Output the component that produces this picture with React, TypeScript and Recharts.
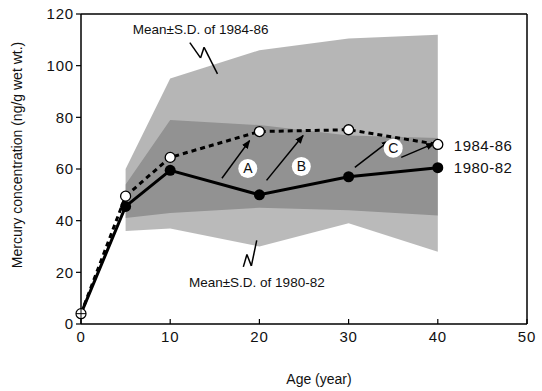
import {
  Area,
  ComposedChart,
  Line,
  ReferenceDot,
  ReferenceLine,
  XAxis,
  YAxis,
} from "recharts";

// ages sampled (years)
const ages = [0, 5, 10, 20, 30, 40];
// mean mercury concentration (ng/g wet wt.)
const mean8082 = [4, 45.5, 59.5, 50, 57, 60.5];
const mean8486 = [4, 49.5, 64.5, 74.5, 75.2, 69.5];
// mean ± S.D. envelopes
const sd8486High = [null, 60, 95, 106, 110.5, 112];
const sd8486Low = [null, 41, 43, 45, 44, 42];
const sd8082High = [null, 54, 79, 77, 73, 72];
const sd8082Low = [null, 36, 37, 30, 39, 28];

const xTicks = [0, 10, 20, 30, 40, 50];
const yTicks = [0, 20, 40, 60, 80, 100, 120];

// arrows from 1980-82 to 1984-86 and their letters
const arrows = [
  { from: { x: 15.8, y: 56.4 }, to: { x: 18.9, y: 71 } },
  { from: { x: 20.8, y: 55.6 }, to: { x: 24.9, y: 73 } },
  { from: { x: 30.7, y: 60.6 }, to: { x: 34.6, y: 71 } },
  { from: { x: 35.9, y: 64.5 }, to: { x: 39.6, y: 69.9 } },
];
const letters = [
  { x: 18.7, y: 60.2, text: "A" },
  { x: 24.7, y: 61, text: "B" },
  { x: 35, y: 68, text: "C" },
];
const zigUpper = [
  { x: 12.2, y: 108.9 },
  { x: 13.4, y: 103.0 },
  { x: 13.8, y: 107.1 },
  { x: 15.3, y: 96.8 },
];
const zigLower = [
  { x: 18.2, y: 22.1 },
  { x: 18.6, y: 26.9 },
  { x: 19.1, y: 22.5 },
  { x: 19.7, y: 32.4 },
];
const notes = [
  { x: 5.8, y: 112.4, text: "Mean±S.D. of 1984-86", size: 13.5 },
  { x: 12.1, y: 14.3, text: "Mean±S.D. of 1980-82", size: 13.5 },
  { x: 41.8, y: 66.9, text: "1984-86", size: 15 },
  { x: 41.8, y: 58.3, text: "1980-82", size: 15 },
];

const data = ages.map((age, i) => ({
  age,
  m8082: mean8082[i],
  m8486: mean8486[i],
  b8486: sd8486High[i] == null ? null : [sd8486Low[i], sd8486High[i]],
  b8082: sd8082High[i] == null ? null : [sd8082Low[i], sd8082High[i]],
}));

const font = "'Liberation Sans', Arial, sans-serif";

function segments(pts: { x: number; y: number }[]) {
  return pts.slice(1).map((p, i) => [pts[i], p]);
}

const FilledDot = (p: any) => {
  if (p.index === 0) return <g key={p.key} />;
  return <circle key={p.key} cx={p.cx} cy={p.cy} r={5.5} fill="#000" />;
};

const OpenDot = (p: any) => {
  if (p.index === 0) {
    return (
      <g key={p.key}>
        <circle cx={p.cx} cy={p.cy} r={5} fill="#fff" stroke="#000" strokeWidth={1.2} />
        <line x1={p.cx - 5} x2={p.cx + 5} y1={p.cy} y2={p.cy} stroke="#000" strokeWidth={1} />
        <line x1={p.cx} x2={p.cx} y1={p.cy - 5} y2={p.cy + 5} stroke="#000" strokeWidth={1} />
      </g>
    );
  }
  return (
    <circle key={p.key} cx={p.cx} cy={p.cy} r={5} fill="#fff" stroke="#000" strokeWidth={1.3} />
  );
};

const ArrowShape = (p: any) => (
  <line
    x1={p.x1}
    y1={p.y1}
    x2={p.x2}
    y2={p.y2}
    stroke="#000"
    strokeWidth={1.5}
    markerEnd="url(#arrowHead)"
  />
);

export default function App() {
  const axisStroke = { stroke: "#000", strokeWidth: 1.5 };
  const tickStyle = { fill: "#111", fontSize: 15, fontFamily: font, letterSpacing: 0.8 };

  return (
    <div
      style={{
        position: "fixed",
        left: 0,
        top: 0,
        width: 542,
        height: 391,
        background: "#fff",
        fontFamily: font,
      }}
    >
      <ComposedChart
        width={542}
        height={391}
        data={data}
        margin={{ top: 14, right: 15, bottom: 37, left: 0 }}
      >
        <defs>
          <marker
            id="arrowHead"
            markerWidth="9"
            markerHeight="8"
            refX="8"
            refY="4"
            orient="auto"
            markerUnits="userSpaceOnUse"
          >
            <path d="M0,0.5 L9,4 L0,7.5 z" fill="#000" />
          </marker>
        </defs>
        <XAxis
          type="number"
          dataKey="age"
          domain={[0, 50]}
          ticks={xTicks}
          height={30}
          axisLine={axisStroke}
          tickLine={{ stroke: "#000", strokeWidth: 1.2 }}
          tickSize={-5}
          tickMargin={12}
          tick={tickStyle}
          interval={0}
        />
        <YAxis
          type="number"
          domain={[0, 120]}
          ticks={yTicks}
          width={81}
          axisLine={axisStroke}
          tickLine={{ stroke: "#000", strokeWidth: 1.2 }}
          tickSize={5}
          tickMargin={2}
          tick={tickStyle}
          interval={0}
        />
        <Area
          type="linear"
          dataKey="b8486"
          stroke="none"
          fill="#666"
          fillOpacity={0.48}
          isAnimationActive={false}
        />
        <Area
          type="linear"
          dataKey="b8082"
          stroke="none"
          fill="#666"
          fillOpacity={0.45}
          isAnimationActive={false}
        />
        <ReferenceLine y={120} stroke="#000" strokeWidth={1.5} />
        <ReferenceLine x={50} stroke="#000" strokeWidth={1.5} />
        {arrows.map((a, i) => (
          <ReferenceLine key={`arrow${i}`} segment={[a.from, a.to]} shape={ArrowShape} />
        ))}
        {[...segments(zigUpper), ...segments(zigLower)].map((s, i) => (
          <ReferenceLine key={`zig${i}`} segment={s} stroke="#000" strokeWidth={1.5} />
        ))}
        <Line
          type="linear"
          dataKey="m8486"
          stroke="#000"
          strokeWidth={3}
          strokeDasharray="5 4"
          dot={OpenDot}
          activeDot={false}
          isAnimationActive={false}
        />
        <Line
          type="linear"
          dataKey="m8082"
          stroke="#000"
          strokeWidth={3}
          dot={FilledDot}
          activeDot={false}
          isAnimationActive={false}
        />
        {letters.map((l) => (
          <ReferenceDot
            key={l.text}
            x={l.x}
            y={l.y}
            r={9}
            shape={(p: any) => (
              <g>
                <circle cx={p.cx} cy={p.cy} r={9.5} fill="#fff" />
                <text
                  x={p.cx}
                  y={p.cy + 5}
                  textAnchor="middle"
                  fontSize={14}
                  fontFamily={font}
                  fill="#111"
                >
                  {l.text}
                </text>
              </g>
            )}
          />
        ))}
        {notes.map((n) => (
          <ReferenceDot
            key={n.text}
            x={n.x}
            y={n.y}
            r={1}
            shape={(p: any) => (
              <text
                x={p.cx}
                y={p.cy}
                fontSize={n.size}
                fontFamily={font}
                fill="#111"
                letterSpacing={n.size === 15 ? 0.5 : 0}
              >
                {n.text}
              </text>
            )}
          />
        ))}
      </ComposedChart>
      <div
        style={{
          position: "absolute",
          left: 17,
          top: 155,
          transform: "translate(-50%, -50%) rotate(-90deg)",
          whiteSpace: "nowrap",
          fontSize: 14,
          color: "#111",
        }}
      >
        Mercury concentration (ng/g wet wt.)
      </div>
      <div
        style={{
          position: "absolute",
          left: 319,
          top: 372,
          transform: "translateX(-50%)",
          whiteSpace: "nowrap",
          fontSize: 14,
          lineHeight: "14px",
          color: "#111",
        }}
      >
        Age (year)
      </div>
    </div>
  );
}
